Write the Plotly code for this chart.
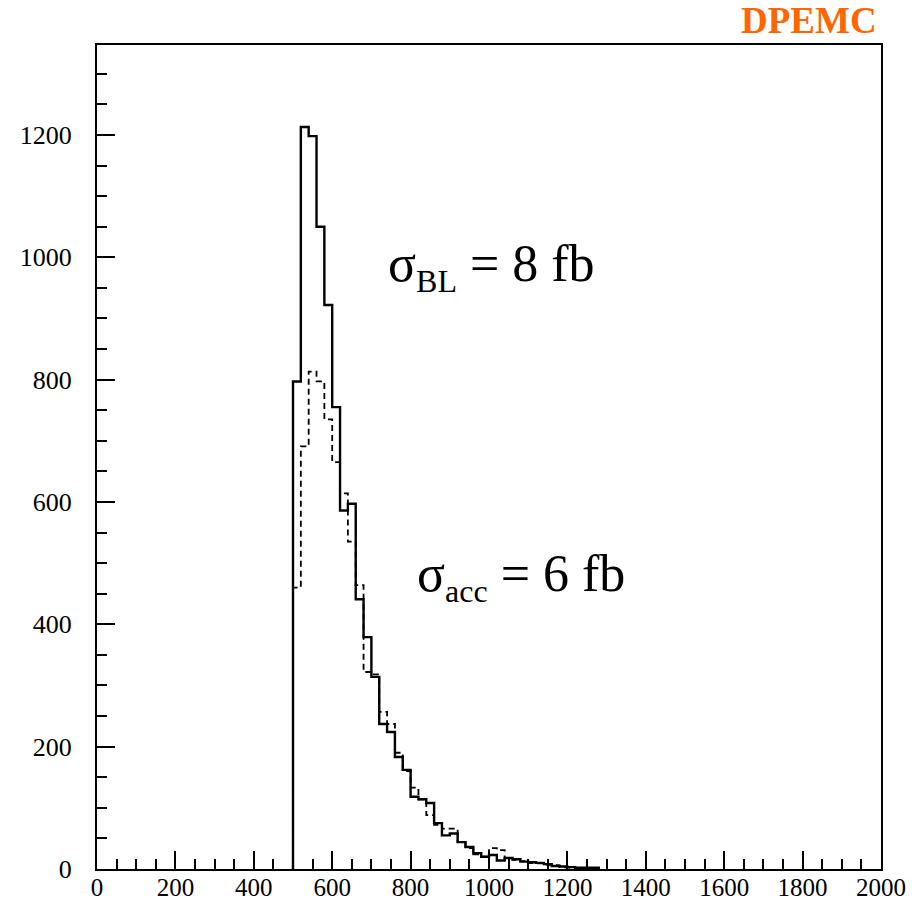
import plotly.graph_objects as go

# Bin lower edges (width 20)
bin_lo = [500, 520, 540, 560, 580, 600, 620, 640, 660, 680, 700, 720, 740, 760, 780,
          800, 820, 840, 860, 880, 900, 920, 940, 960, 980, 1000, 1020, 1040, 1060, 1080,
          1100, 1120, 1140, 1160, 1180, 1200, 1220, 1240, 1260]
bin_width = 20

solid_vals = [797, 1213, 1198, 1050, 922, 755, 586, 597, 441, 379, 314, 237, 224, 183, 162,
              118, 114, 108, 75, 55, 58, 44, 36, 26, 20, 23, 14, 18, 16, 12,
              11, 10, 8, 5, 4, 3, 2, 2, 2]

dashed_vals = [460, 691, 813, 797, 735, 665, 614, 535, 464, 322, 318, 257, 237, 190, 160,
               133, 114, 88, 72, 66, 66, 44, 34, 24, 20, 34, 31, 18, 15, 13,
               10, 9, 7, 6, 3, 2, 1, 1, 1]

x_ticks = [0, 200, 400, 600, 800, 1000, 1200, 1400, 1600, 1800, 2000]
y_ticks = [0, 200, 400, 600, 800, 1000, 1200]


def step_xy(lo, vals, w):
    xs = [lo[0]]
    ys = [0]
    for l, v in zip(lo, vals):
        xs += [l, l + w]
        ys += [v, v]
    xs.append(lo[-1] + w)
    ys.append(0)
    return xs, ys


sx, sy = step_xy(bin_lo, solid_vals, bin_width)
dx, dy = step_xy(bin_lo, dashed_vals, bin_width)

fig = go.Figure()
fig.add_trace(go.Scatter(x=dx, y=dy, mode="lines",
                         line=dict(color="black", width=1.8, dash="6px,4px"),
                         hoverinfo="skip", showlegend=False))
fig.add_trace(go.Scatter(x=sx, y=sy, mode="lines",
                         line=dict(color="black", width=2.4),
                         hoverinfo="skip", showlegend=False))

serif = "Liberation Serif, Times New Roman, serif"
L, R, T, B = 97, 39, 45, 36

fig.update_layout(
    width=920, height=905,
    margin=dict(l=L, r=R, t=T, b=B),
    paper_bgcolor="white", plot_bgcolor="white",
    showlegend=False,
    font=dict(family=serif, color="black"),
    xaxis=dict(range=[0, 2000], tickvals=x_ticks, ticktext=[str(v) for v in x_ticks],
               ticks="inside", ticklen=18, tickwidth=2, tickcolor="black",
               minor=dict(dtick=50, tick0=0, ticks="inside", ticklen=10, tickwidth=2, tickcolor="black"),
               showline=True, linewidth=2, linecolor="black", mirror=True,
               showgrid=False, zeroline=False, automargin=False, ticklabelstandoff=-5,
               tickfont=dict(family=serif, size=25, color="black")),
    yaxis=dict(range=[0, 1347], tickvals=y_ticks, ticktext=[str(v) for v in y_ticks],
               ticks="inside", ticklen=18, tickwidth=2, tickcolor="black",
               minor=dict(dtick=50, tick0=0, ticks="inside", ticklen=10, tickwidth=2, tickcolor="black"),
               showline=True, linewidth=2, linecolor="black", mirror=True,
               showgrid=False, zeroline=False, automargin=False, ticklabelstandoff=18,
               tickfont=dict(family=serif, size=26, color="black")),
    annotations=[
        dict(x=738, y=984, xref="x", yref="y", xanchor="left", yanchor="middle",
             text="σ<sub><span style='font-size:32px'>BL</span></sub> = 8 fb", showarrow=False,
             font=dict(family=serif, size=52, color="black")),
        dict(x=811, y=478, xref="x", yref="y", xanchor="left", yanchor="middle",
             text="σ<sub><span style='font-size:32px'>acc</span></sub> = 6 fb", showarrow=False,
             font=dict(family=serif, size=52, color="black")),
        dict(x=(879 - L) / (920 - L - R), y=(905 - B - 20) / (905 - T - B),
             xref="paper", yref="paper", xanchor="right", yanchor="middle",
             text="<b>DPEMC</b>", showarrow=False,
             font=dict(family=serif, size=37, color="#FF6600")),
    ],
)

fig.write_html("out.html")
